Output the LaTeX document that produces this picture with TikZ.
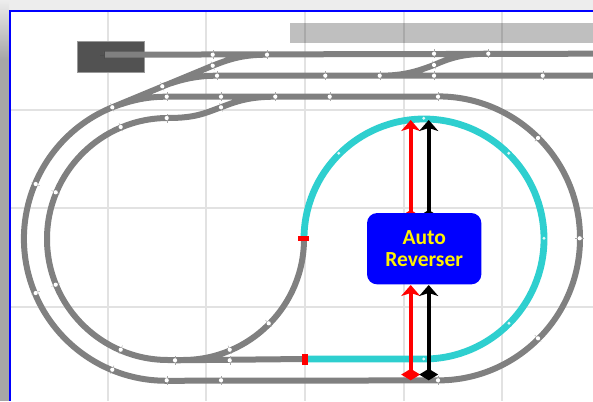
\documentclass[tikz,border=0pt]{standalone}
\usepackage{fontspec}
\setsansfont{Carlito}
\usetikzlibrary{arrows.meta}
\definecolor{trackgrey}{HTML}{808080}
\definecolor{loopcyan}{HTML}{2ECFCF}
\definecolor{gridgrey}{HTML}{E2E2E2}
\tikzset{
    track/.style = {draw = trackgrey, line width = 6pt},
    loopline/.style = {draw = loopcyan, line width = 6.8pt},
    feeder/.style = {line width = 4pt, {Diamond[length = 11.5pt, width = 19pt]}-{Stealth[length = 11pt, width = 19pt, inset = 3pt]}},
    gapmark/.style = {fill = red},
}
\begin{document}
\begin{tikzpicture}[x = 1pt, y = -1pt]
    \useasboundingbox (0, 0) rectangle (593, 401);
    \fill [black!7] (0, 0) rectangle (593, 401);
    \fill [black!35] (0, 60) rectangle (9, 401);
    \shade [top color = black!7, bottom color = black!35] (0, 0) rectangle (9, 60);
    \fill [white] (10, 11) rectangle (593, 401);
    \draw [blue, line width = 2.2pt] (593, 11) -- (10, 11) -- (10, 401);

    \foreach \x in {108, 206, 305, 404, 502} {
        \draw [gridgrey, line width = 1.3pt] (\x, 12) -- (\x, 401);
    }
    \foreach \y in {110, 208, 307} {
        \draw [gridgrey, line width = 1.3pt] (11, \y) -- (593, \y);
    }

    \fill [black, opacity = 0.25] (290, 23) rectangle (593, 43);
    \fill [black!68, draw = black!40] (77, 41) rectangle (144, 72);

    % yard
    \path [track]
        (104, 54.7) -- (593, 53.7)
        (217, 75.7) -- (593, 75.7)
        (166.7, 96.7) -- (438, 96.7)
        (112.3, 107.3) -- (212.7, 65.7) .. controls (232, 58) and (245, 54.7) .. (267, 54.7)
        (162.3, 86.3) .. controls (182, 79) and (197, 75.7) .. (217, 75.7)
        (112.3, 107.3) .. controls (132, 100) and (147, 96.7) .. (166.7, 96.7)
        (168, 118) .. controls (196, 118) and (205, 113) .. (221, 107.3)
            .. controls (237, 101) and (250, 96.7) .. (275.3, 96.7)
        (379.7, 75.7) .. controls (405, 75.7) and (418, 71) .. (434, 65)
            .. controls (450, 58) and (463, 53.7) .. (488.3, 53.7)
    ;
    \draw [black!70, line width = 0.5pt] (100, 55) -- (104, 55) (104, 51) -- (104, 59);

    % outer and inner loop
    \path [track]
        (112.3, 107.3) arc [start angle = 247.8, end angle = 90, radius = 142] -- (438, 380.4)
            arc [start angle = 90, end angle = -90, radius = 142]
    ;
    \path [track]
        (168, 118) arc [start angle = 270, end angle = 90, radius = 121] -- (183, 360)
            arc [start angle = 90, end angle = 0, radius = 121]
        (175, 360.3) -- (305, 359)
    ;

    % reversing loop
    \path [loopline]
        (304, 239) arc [start angle = 180, end angle = 450, radius = 120] -- (305, 359)
    ;
    \fill [gapmark] (298, 236.3) rectangle (309, 241.3);
    \fill [gapmark] (302, 353.5) rectangle (308, 364.5);

    \foreach \x / \y / \a in {
        212.7/54.7/90, 267/54.7/90, 212.7/65.7/68, 217/75.7/90, 162.3/86.3/68,
        166.7/96.7/90, 221/96.7/90, 275.3/96.7/90, 221/107.3/70, 166.7/118/90,
        112.3/107.3/68, 120.7/127/247, 35.7/184/203, 55.7/192.3/203,
        434/53.7/90, 488.3/53.7/90, 434/65/70, 379.7/75.7/90, 325.3/75.7/90,
        434/75.7/90, 542.7/75.7/90, 329.7/96.7/90, 438/96.7/90, 538/138/-45,
        35.7/293/157, 55.7/284.7/158, 120.7/349.7/113, 112.3/369.7/112,
        175/360.3/90, 229.7/349.7/67, 229.7/360.3/90, 268.7/323.3/45,
        166.7/380.3/90, 221/380.3/90, 579.7/238.3/0, 538/338.3/45, 438/380.3/90} {
        \draw [black!35, line width = 0.4pt] (\x, \y) +(\a:4.5) -- +(\a:-4.5);
        \fill [white] (\x, \y) circle [radius = 2.1];
    }
    \foreach \x / \y in {423.7/118.3, 338.7/153.3, 508.7/153.3, 544/238.3, 509/323.3, 423.7/359} {
        \fill [white, opacity = 0.85] (\x, \y) circle [radius = 1.6];
    }

    % feeders
    \coordinate (redtop) at (410.7, 120);
    \coordinate (blacktop) at (428.7, 120);
    \coordinate (redboxup) at (410.7, 221.5);
    \coordinate (blackboxup) at (428.7, 221.5);
    \coordinate (redboxdown) at (410.7, 285);
    \coordinate (blackboxdown) at (428.7, 285);
    \coordinate (redrail) at (410.7, 380.3);
    \coordinate (blackrail) at (428.7, 380.3);
    \draw [feeder, red] (redboxup) -- (redtop);
    \draw [feeder, black] (blackboxup) -- (blacktop);
    \draw [feeder, red] (redrail) -- (redboxdown);
    \draw [feeder, black] (blackrail) -- (blackboxdown);

    \node (reverser) [
        fill = blue, rounded corners = 10pt, text = yellow, align = center, inner sep = 0pt,
        minimum width = 114.3pt, minimum height = 71.3pt,
        font = \sffamily\bfseries\fontsize{21.5}{21.5}\selectfont
    ] at (424.2, 248.7) {Auto\\Reverser};
\end{tikzpicture}
\end{document}
